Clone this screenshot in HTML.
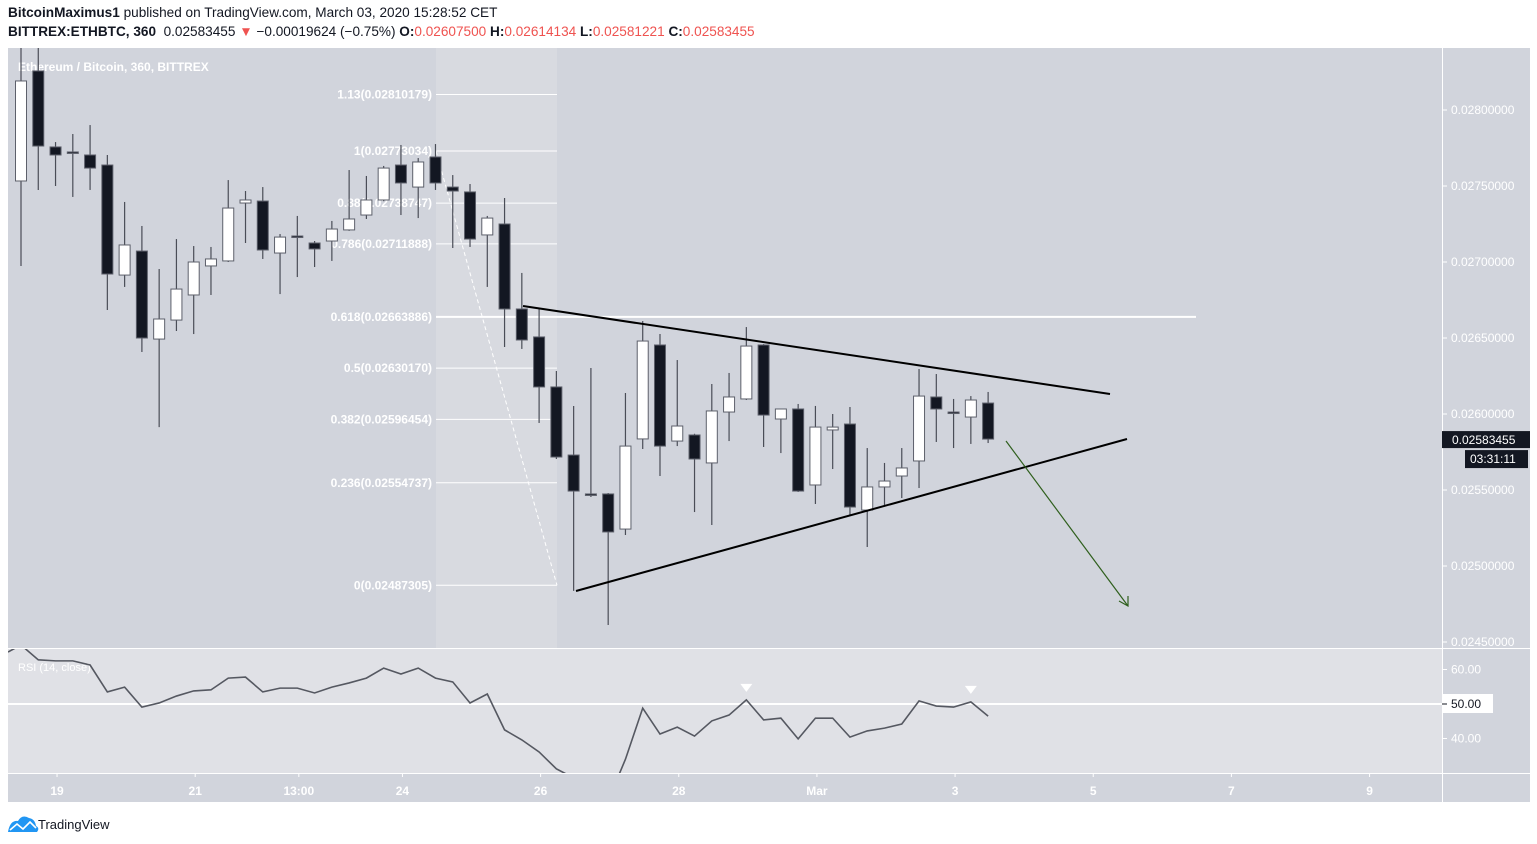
<!DOCTYPE html>
<html><head><meta charset="utf-8">
<style>
html,body{margin:0;padding:0;background:#fff;width:1537px;height:844px;overflow:hidden;font-family:"Liberation Sans",sans-serif;}
#hdr1{position:absolute;left:8px;top:5px;font-size:13.6px;color:#131722;white-space:nowrap;}
#hdr2{position:absolute;left:8px;top:24px;font-size:13.6px;color:#131722;white-space:nowrap;}
.r{color:#ef5350}
svg{position:absolute;left:0;top:0}
</style></head>
<body>
<div id="hdr1"><b>BitcoinMaximus1</b> published on TradingView.com, March 03, 2020 15:28:52 CET</div>
<div id="hdr2"><b>BITTREX:ETHBTC, 360</b>&nbsp; 0.02583455 <span class="r">▼</span> −0.00019624 (−0.75%) <b>O:</b><span class="r">0.02607500</span> <b>H:</b><span class="r">0.02614134</span> <b>L:</b><span class="r">0.02581221</span> <b>C:</b><span class="r">0.02583455</span></div>
<svg id="chart" width="1537" height="844" xmlns="http://www.w3.org/2000/svg">
<defs>
<clipPath id="mainClip"><rect x="8" y="48" width="1434" height="600"/></clipPath>
<clipPath id="rsiClip"><rect x="8" y="649" width="1434" height="124"/></clipPath>
</defs>
<rect x="8" y="48" width="1522" height="754" fill="#d1d4dc"/>
<rect x="436" y="48" width="121" height="600" fill="#d8dae0"/>
<rect x="8" y="649" width="1434" height="124" fill="#e0e1e6"/>
<line x1="8" y1="648.5" x2="1530" y2="648.5" stroke="#fff" stroke-width="1"/>
<line x1="8" y1="773.5" x2="1530" y2="773.5" stroke="#fff" stroke-width="1"/>
<line x1="1442.5" y1="48" x2="1442.5" y2="802" stroke="#fff" stroke-width="1"/>
<text x="18" y="71" fill="#fff" font-size="12" font-weight="bold">Ethereum / Bitcoin, 360, BITTREX</text>
<text x="18" y="671" fill="#fff" font-size="11">RSI (14, close)</text>
<g id="fib"></g>
<g id="candles" clip-path="url(#mainClip)"></g>
<g id="drawings"></g>
<line x1="8" y1="704" x2="1442" y2="704" stroke="#fff" stroke-width="2"/>
<g id="rsi" clip-path="url(#rsiClip)"></g>
<g id="axes"></g>
</svg>
<svg width="120" height="30" style="left:6px;top:810px">
<path d="M2 22 Q4 10 12 11 Q16 4 23 8 Q29 9 30 16 Q34 18 31 22 Z" fill="#2196f3"/>
<path d="M4 20 L11 14 L17 19 L24 12 L30 18" fill="none" stroke="#fff" stroke-width="1.6"/>
<text x="32" y="19" font-size="13" fill="#131722" font-family="Liberation Sans, sans-serif">TradingView</text>
</svg>
<script>
const opens=[0.027533,0.028257,0.027757,0.027724,0.027704,0.027638,0.026914,0.027072,0.026493,0.026618,0.026783,0.026974,0.027007,0.027388,0.027401,0.027059,0.027171,0.027125,0.027138,0.027211,0.027309,0.027408,0.027638,0.027493,0.027691,0.027493,0.027461,0.027178,0.027250,0.026691,0.026507,0.026178,0.025730,0.025474,0.025474,0.025243,0.025836,0.026454,0.025822,0.025862,0.025678,0.026013,0.026099,0.026454,0.025967,0.026033,0.025533,0.025895,0.025934,0.025368,0.025520,0.025592,0.025691,0.026112,0.026013,0.025980,0.026072];
const highs=[0.028461,0.028461,0.027789,0.027842,0.027901,0.027704,0.027395,0.027237,0.026954,0.027151,0.027105,0.027099,0.027539,0.027467,0.027493,0.027184,0.027303,0.027138,0.027270,0.027605,0.027566,0.027632,0.027770,0.027684,0.027776,0.027572,0.027513,0.027303,0.027421,0.026928,0.026691,0.026283,0.026053,0.026303,0.025480,0.026138,0.026612,0.026526,0.026355,0.025870,0.026197,0.026270,0.026572,0.026460,0.026033,0.026066,0.026053,0.026000,0.026046,0.025776,0.025678,0.025776,0.026296,0.026263,0.026099,0.026118,0.026145];
const lows=[0.026974,0.027474,0.027500,0.027428,0.027474,0.026684,0.026836,0.026408,0.025914,0.026546,0.026526,0.026783,0.027000,0.027125,0.027020,0.026789,0.026901,0.026967,0.027007,0.027205,0.027283,0.027400,0.027309,0.027289,0.027474,0.027092,0.027099,0.026836,0.026441,0.026428,0.025941,0.025704,0.024836,0.025454,0.024612,0.025204,0.025770,0.025592,0.025789,0.025355,0.025270,0.025822,0.026092,0.025783,0.025743,0.025487,0.025408,0.025638,0.025336,0.025125,0.025401,0.025447,0.025513,0.025816,0.025776,0.025803,0.025809];
const closes=[0.028191,0.027763,0.027704,0.027722,0.027618,0.026921,0.027112,0.026500,0.026625,0.026822,0.027000,0.027020,0.027355,0.027408,0.027079,0.027164,0.027165,0.027086,0.027217,0.027283,0.027408,0.027618,0.027520,0.027658,0.027520,0.027467,0.027151,0.027289,0.026691,0.026487,0.026178,0.025717,0.025493,0.025470,0.025224,0.025789,0.026480,0.025789,0.025921,0.025704,0.026020,0.026112,0.026447,0.025993,0.026033,0.025493,0.025914,0.025914,0.025388,0.025520,0.025559,0.025645,0.026118,0.026033,0.026007,0.026092,0.025835];
const rsiValues=[67.1,62.8,62.5,62.5,61.3,53.5,54.9,49.1,50.3,52.3,53.8,54.1,57.5,57.8,53.5,54.6,54.6,53.2,54.9,56.1,57.5,60.4,58.7,60.4,57.5,56.4,50.3,52.9,42.5,39.6,36.1,31.2,28.6,24,22,34,48.8,41.3,43.3,40.7,45.1,46.8,51.2,45.4,45.9,39.9,45.9,45.9,40.4,42.2,43.0,44.2,50.9,49.4,49.1,50.6,46.5];
const priceTicks=[0.028,0.0275,0.027,0.0265,0.026,0.0255,0.025,0.0245];
const rsiTicks=[60,50,40];
const dateLabels=["19","21","13:00","24","26","28","Mar","3","5","7","9"];
const dateIdx=[2,10,16,22,30,38,46,54,62,70,78];
const fibRatios=[1.13,1,0.88,0.786,0.618,0.5,0.382,0.236,0];
const fibPrices=[0.02810179,0.02773034,0.02738747,0.02711888,0.02663886,0.02630170,0.02596454,0.02554737,0.02487305];
const lastPriceText="0.02583455";

const NS="http://www.w3.org/2000/svg";
const xOf=i=>21+17.27*i;
const yP=p=>110+(0.028-p)/0.0005*76;
const yR=v=>704-(v-50)*3.45;
function mk(tag,attrs,parent){const e=document.createElementNS(NS,tag);for(const k in attrs)e.setAttribute(k,attrs[k]);parent.appendChild(e);return e;}

const cg=document.getElementById('candles');
for(let i=0;i<opens.length;i++){
  const x=xOf(i),o=opens[i],c=closes[i],up=c>=o;
  const g=mk('g',{},cg);
  
  
  mk('line',{x1:x,x2:x,y1:yP(highs[i]),y2:yP(lows[i]),stroke:'#4a4d57','stroke-width':1.2},g);
  const top=yP(Math.max(o,c)),bot=yP(Math.min(o,c));
  mk('rect',{x:x-5.5,y:top,width:11,height:Math.max(bot-top,1.5),fill:up?'#ffffff':'#131722',stroke:'#5d606b','stroke-width':1},g);
}

const fg=document.getElementById('fib');
fibRatios.forEach((r,k)=>{
  const p=fibPrices[k],y=yP(p);
  const l=mk('line',{x1:436,x2:r===0.618?1196:557,y1:y,y2:y,stroke:'#fff','stroke-width':r===0.618?2:1},fg);
  
  
  const t=mk('text',{x:432,y:y+4,'text-anchor':'end',fill:'#fff','font-size':12,'font-weight':'bold'},fg);
  
  
  t.textContent=r+'('+p.toFixed(8)+')';
});
const fd=mk('line',{x1:436,y1:yP(fibPrices[1]),x2:557,y2:yP(fibPrices[8]),stroke:'#fff','stroke-width':1,'stroke-dasharray':'4,3'},fg);



const dg=document.getElementById('drawings');
const tu=mk('line',{x1:523,y1:306,x2:1110,y2:394,stroke:'#000','stroke-width':2},dg);


const tl=mk('line',{x1:576,y1:591,x2:1127,y2:439,stroke:'#000','stroke-width':2},dg);


const ar=mk('g',{stroke:'#2f5f1d','stroke-width':1.2,fill:'none'},dg);


mk('line',{x1:1006,y1:441,x2:1128,y2:606},ar);
mk('polyline',{points:'1119,601 1128,606 1128,596'},ar);

const rg=document.getElementById('rsi');
const pts=rsiValues.map((v,i)=>xOf(i)+','+yR(v)).join(' ');
const rl=mk('polyline',{points:'8,'+(yR(rsiValues[0])+7)+' '+pts,fill:'none',stroke:'#555861','stroke-width':1.6},rg);


[42,55].forEach(i=>{
  const y=yR(rsiValues[i])-16,x=xOf(i);
  const m=mk('polygon',{points:(x-6)+','+y+' '+(x+6)+','+y+' '+x+','+(y+8),fill:'#fff'},rg);
  
  
});

const ag=document.getElementById('axes');
priceTicks.forEach(p=>{
  const y=yP(p);
  mk('line',{x1:1442,x2:1447,y1:y,y2:y,stroke:'#fff'},ag);
  const t=mk('text',{x:1451,y:y+4,fill:'#fff','font-size':12},ag);
  
  
  t.textContent=p.toFixed(8);
});
rsiTicks.forEach(v=>{
  const y=yR(v);
  if(v===50){mk('rect',{x:1443,y:y-10,width:50,height:19,fill:'#fff'},ag);}
  mk('line',{x1:1442,x2:1447,y1:y,y2:y,stroke:v===50?'#131722':'#fff'},ag);
  const t=mk('text',{x:1451,y:y+4,fill:v===50?'#131722':'#fff','font-size':12},ag);
  
  
  t.textContent=v.toFixed(2);
});
const lastY=yP(closes[closes.length-1]);
const lb=mk('g',{},ag);


mk('rect',{x:1442,y:lastY-8,width:88,height:17,fill:'#131722'},lb);
mk('text',{x:1452,y:lastY+5,fill:'#fff','font-size':12},lb).textContent=lastPriceText;
mk('rect',{x:1465,y:lastY+11,width:63,height:18,fill:'#131722'},lb);
mk('text',{x:1470,y:lastY+24,fill:'#fff','font-size':12},lb).textContent='03:31:11';
dateLabels.forEach((d,k)=>{
  const x=xOf(dateIdx[k])+1.5;
  mk('line',{x1:x,x2:x,y1:773,y2:777,stroke:'#fff'},ag);
  const t=mk('text',{x:x,y:795,fill:'#fff','font-size':12,'font-weight':'bold','text-anchor':'middle'},ag);
  
  
  t.textContent=d;
});
</script>
</body></html>
